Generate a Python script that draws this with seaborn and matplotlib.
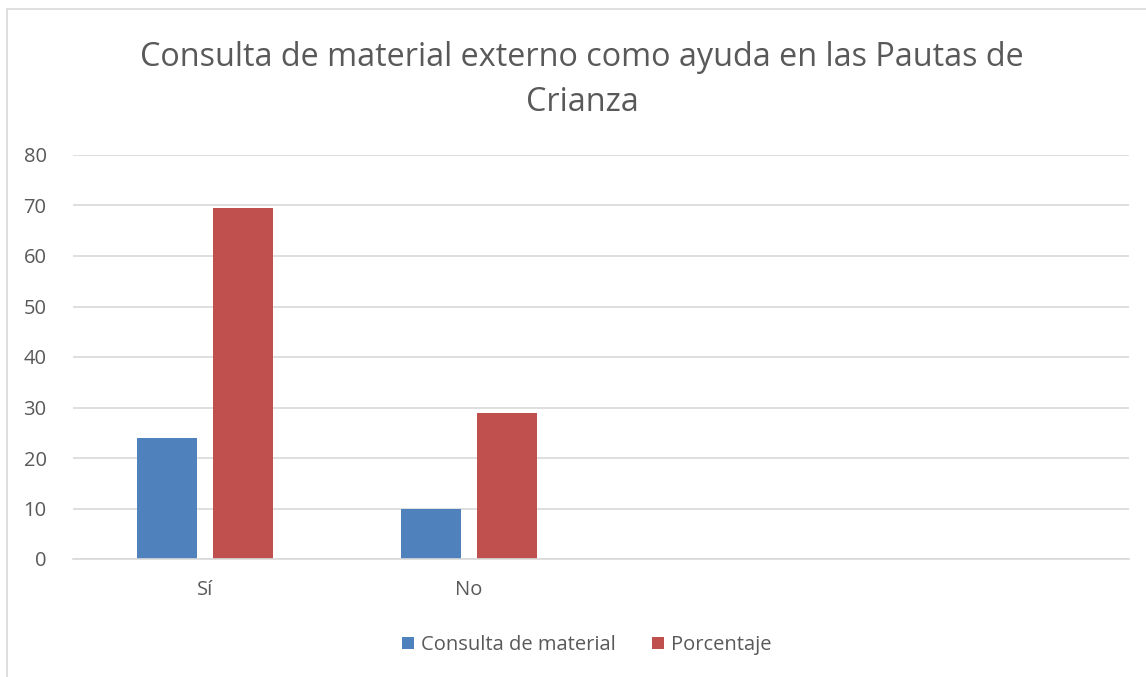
import pandas as pd
import seaborn as sns
import matplotlib.pyplot as plt
from matplotlib.patches import Rectangle

# values
categories = ["Sí", "No"]
consulta = [24, 10]
porcentaje = [69.6, 29]
series_names = ["Consulta de material", "Porcentaje"]
colors = ["#4f81bd", "#c0504d"]

df = pd.DataFrame({
    "categoria": categories * 2,
    "valor": consulta + porcentaje,
    "serie": [series_names[0]] * len(categories) + [series_names[1]] * len(categories),
})

sns.set_style("white")
plt.rcParams["font.family"] = ["Open Sans", "DejaVu Sans"]
text_color = "#595959"

fig = plt.figure(figsize=(11.46, 6.77), dpi=100)
ax = fig.add_axes([73 / 1146, 118 / 677, (1129 - 73) / 1146, (559 - 155) / 677])

sns.barplot(data=df, x="categoria", y="valor", hue="serie", order=categories,
            hue_order=series_names, palette=colors, width=0.576, gap=0.21,
            saturation=1, linewidth=0, edgecolor="none", ax=ax, legend=True)

# Excel-style category axis has 4 slots, only the first two used
ax.set_xlim(-0.5, 3.5)
ax.set_ylim(0, 80)
ax.set_yticks(range(0, 81, 10))
ax.yaxis.grid(True, color="#d9d9d9", linewidth=1.2)
ax.set_axisbelow(True)
for side in ["top", "right", "left"]:
    ax.spines[side].set_visible(False)
ax.spines["bottom"].set_color("#d9d9d9")
ax.spines["bottom"].set_linewidth(1.2)
ax.tick_params(axis="both", length=0, labelsize=14.5, colors=text_color)
ax.tick_params(axis="x", pad=15)
ax.tick_params(axis="y", pad=19)
ax.set_xlabel("")
ax.set_ylabel("")

handles, labels = ax.get_legend_handles_labels()
ax.get_legend().remove()
fig.legend(handles, labels, loc="center", bbox_to_anchor=(587 / 1146, 1 - 645 / 677),
           ncol=2, frameon=False, fontsize=14.5, labelcolor=text_color,
           handlelength=0.6, handleheight=0.6, handletextpad=0.35, columnspacing=1.8)

fig.text(582 / 1146, 1 - 80 / 677,
         "Consulta de material externo como ayuda en las Pautas de\nCrianza",
         ha="center", va="center", fontsize=23.3, color=text_color, linespacing=1.45)

# chart border
fig.patches.append(Rectangle((7 / 1146, -0.05), 1.1, 1 - 9 / 677 + 0.05,
                             transform=fig.transFigure, fill=False,
                             edgecolor="#d9d9d9", linewidth=1.2))

plt.savefig("out.png", dpi=100)
